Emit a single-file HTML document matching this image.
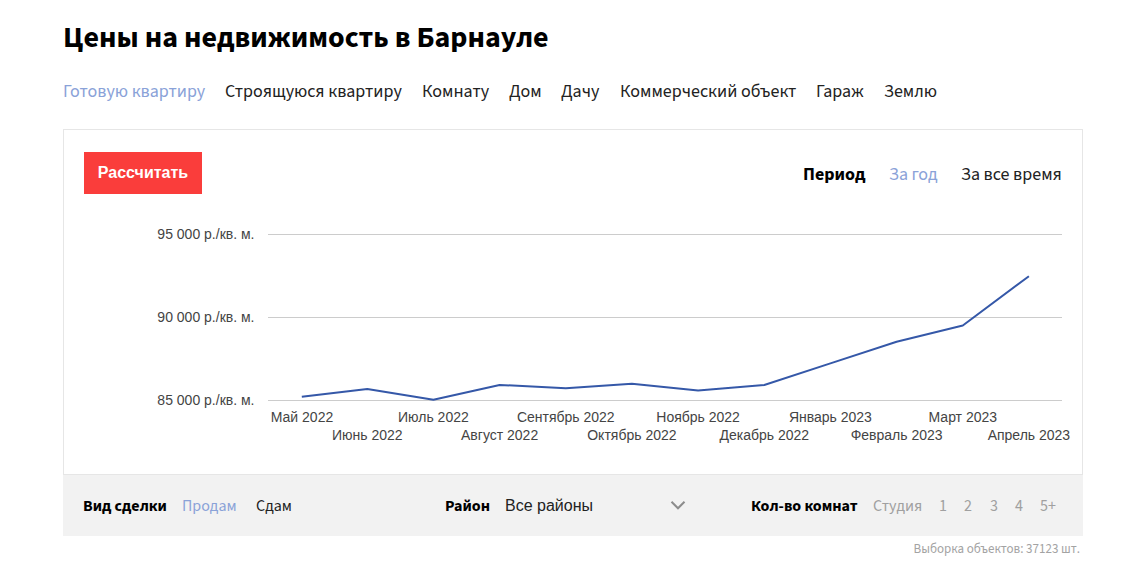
<!DOCTYPE html>
<html lang="ru">
<head>
<meta charset="utf-8">
<title>Цены на недвижимость в Барнауле</title>
<style>
html,body{margin:0;padding:0;background:#fff;}
body{width:1145px;height:573px;position:relative;overflow:hidden;font-family:"Source Sans 3","Noto Sans CJK SC","Liberation Sans",sans-serif;color:#1a1a1a;}
.abs{position:absolute;white-space:nowrap;}
h1{position:absolute;left:63px;top:19px;margin:0;font-size:30px;font-weight:700;line-height:38px;color:#000;white-space:nowrap;}
.nav{position:absolute;top:80px;left:0;font-size:18px;line-height:24px;}
.nav span{position:absolute;white-space:nowrap;color:#222;}
.nav span.on{color:#8aa2d8;}
.box{position:absolute;left:63px;top:129px;width:1018px;height:345px;border:1px solid #e6e6e6;border-bottom:none;background:#fff;}
.btn{position:absolute;left:84px;top:152px;width:118px;height:42px;background:#fa3d3b;color:#fff;font:700 16px/42px "Liberation Sans",Arial,sans-serif;text-align:center;}
.per{position:absolute;top:163px;font-size:18px;line-height:24px;white-space:nowrap;}
.foot{position:absolute;left:63px;top:474px;width:1020px;height:62px;background:#f2f2f2;border-top:1px solid #e6e6e6;box-sizing:border-box;}
.ft{position:absolute;top:494px;font-size:16px;line-height:24px;white-space:nowrap;}
.b{font-weight:700;color:#000;}
.lb{color:#8aa2d8;}
.gr{color:#a0a0a0;}
.cnt{position:absolute;right:65px;top:541px;font-size:13px;line-height:16px;color:#a3a3a3;white-space:nowrap;}
svg{position:absolute;left:0;top:0;}
svg text{font-family:"Liberation Sans",Arial,sans-serif;font-size:14px;fill:#444;}
</style>
</head>
<body>
<h1>Цены на недвижимость в Барнауле</h1>
<div class="nav">
<span class="on" style="left:63px">Готовую квартиру</span>
<span style="left:225px">Строящуюся квартиру</span>
<span style="left:422px">Комнату</span>
<span style="left:509px">Дом</span>
<span style="left:561px">Дачу</span>
<span style="left:620px">Коммерческий объект</span>
<span style="left:816px">Гараж</span>
<span style="left:884px">Землю</span>
</div>
<div class="box"></div>
<div class="btn">Рассчитать</div>
<div class="per b" style="left:803px">Период</div>
<div class="per lb" style="left:889px">За год</div>
<div class="per" style="left:961px;color:#222">За все время</div>

<svg width="1145" height="573" viewBox="0 0 1145 573">
<g stroke="#ccc" stroke-width="1" shape-rendering="crispEdges">
<line x1="268" y1="234.5" x2="1062" y2="234.5"/>
<line x1="268" y1="317.5" x2="1062" y2="317.5"/>
<line x1="268" y1="400.5" x2="1062" y2="400.5"/>
</g>
<g text-anchor="end">
<text x="254.5" y="239">95 000 р./кв. м.</text>
<text x="254.5" y="322">90 000 р./кв. м.</text>
<text x="254.5" y="405">85 000 р./кв. м.</text>
</g>
<polyline fill="none" stroke="#3558a8" stroke-width="2" stroke-linejoin="round"
points="301.8,396.8 367.3,388.9 433.4,399.8 499.6,384.9 565.8,388.3 631.9,383.8 698.1,390.4 764.3,385.0 830.4,363.4 896.6,341.7 962.8,325.5 1028.9,276.2"/>
<g text-anchor="middle">
<text x="302" y="422">Май 2022</text>
<text x="367.3" y="440">Июнь 2022</text>
<text x="433.4" y="422">Июль 2022</text>
<text x="499.6" y="440">Август 2022</text>
<text x="565.8" y="422">Сентябрь 2022</text>
<text x="631.9" y="440">Октябрь 2022</text>
<text x="698.1" y="422">Ноябрь 2022</text>
<text x="764.3" y="440">Декабрь 2022</text>
<text x="830.4" y="422">Январь 2023</text>
<text x="896.6" y="440">Февраль 2023</text>
<text x="962.8" y="422">Март 2023</text>
<text x="1028.9" y="440">Апрель 2023</text>
</g>
</svg>

<div class="foot"></div>
<div class="ft b" style="left:83px">Вид сделки</div>
<div class="ft lb" style="left:182px">Продам</div>
<div class="ft" style="left:256px;color:#222">Сдам</div>
<div class="ft b" style="left:445px">Район</div>
<div class="ft" style="left:505px;color:#222;font-family:'Liberation Sans',Arial,sans-serif">Все районы</div>
<svg class="chev" width="20" height="12" style="left:669px;top:500px" viewBox="0 0 20 12"><polyline points="2.5,1.8 9,8.3 15.5,1.8" fill="none" stroke="#8c8c8c" stroke-width="2"/></svg>
<div class="ft b" style="left:751px">Кол-во комнат</div>
<div class="ft gr" style="left:873px">Студия</div>
<div class="ft gr" style="left:939px">1</div>
<div class="ft gr" style="left:964px">2</div>
<div class="ft gr" style="left:990px">3</div>
<div class="ft gr" style="left:1015px">4</div>
<div class="ft gr" style="left:1040px">5+</div>
<div class="cnt">Выборка объектов: 37123 шт.</div>
</body>
</html>
